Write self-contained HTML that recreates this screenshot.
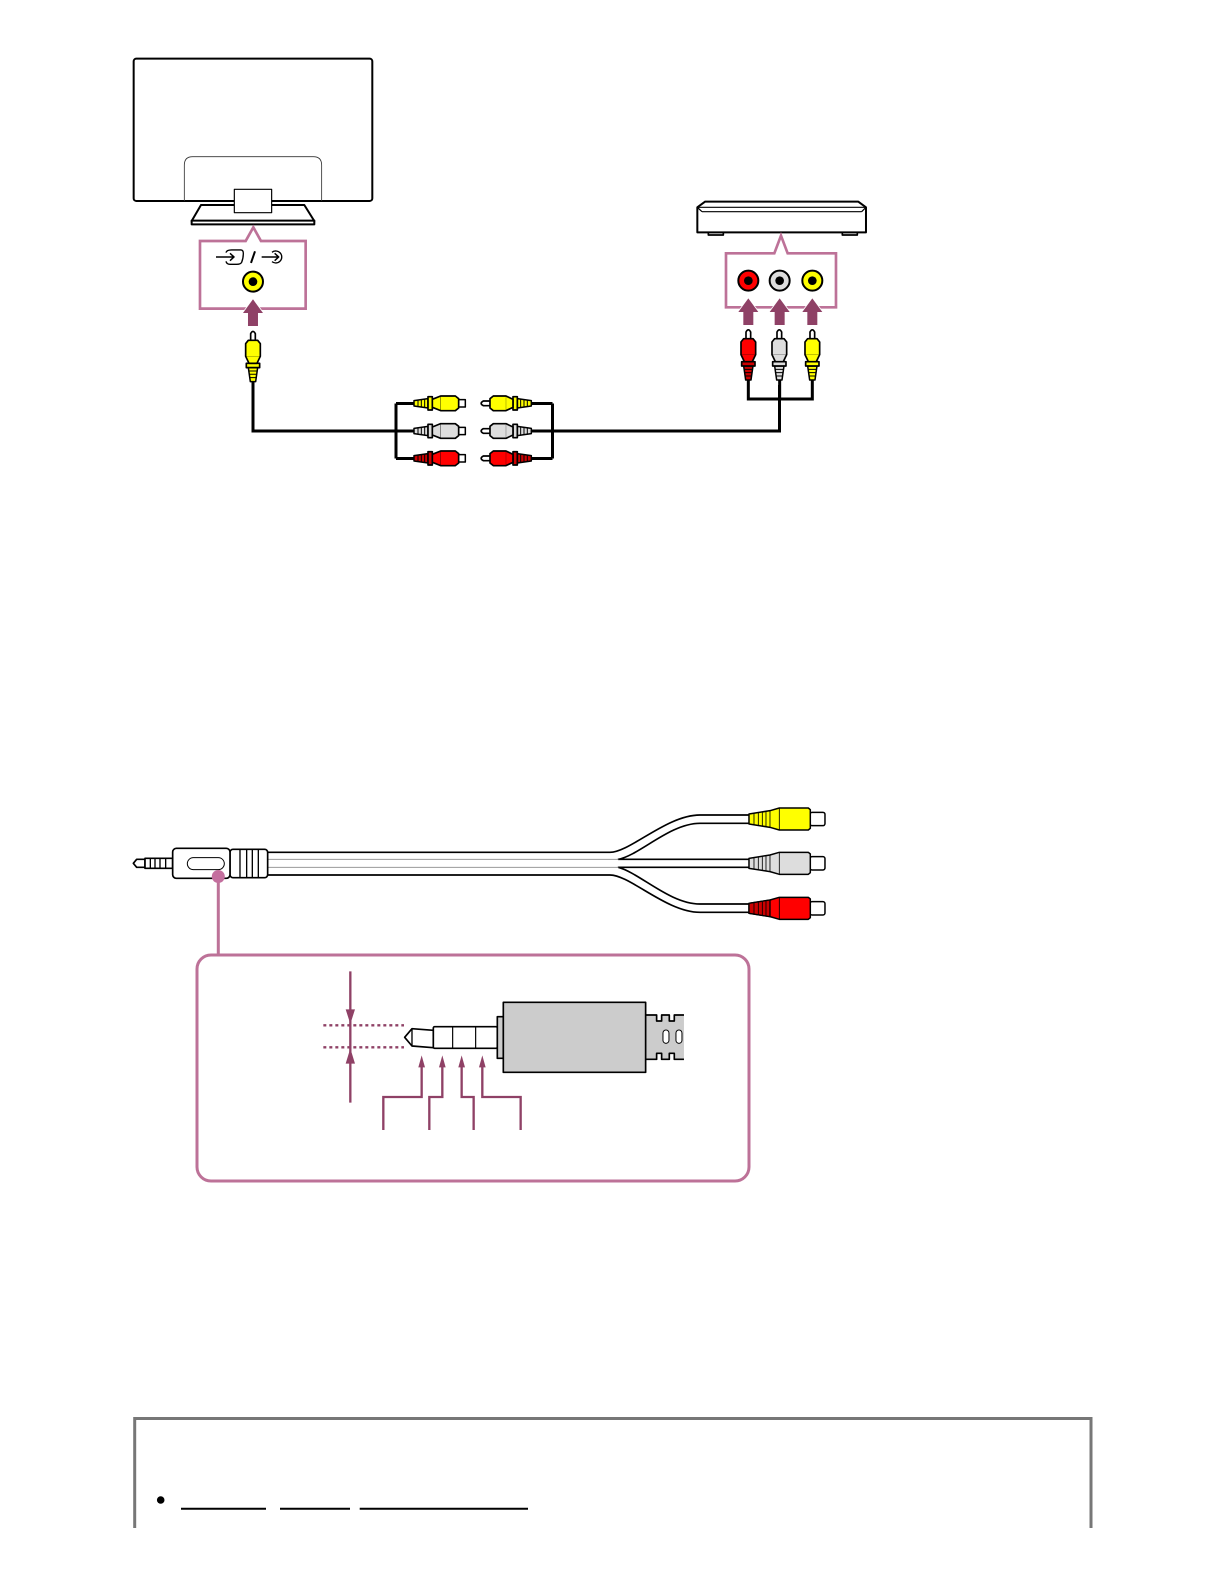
<!DOCTYPE html>
<html>
<head>
<meta charset="utf-8">
<style>
html,body{margin:0;padding:0;background:#fff;width:1224px;height:1584px;overflow:hidden}
svg{display:block}
</style>
</head>
<body>
<svg width="1224" height="1584" viewBox="0 0 1224 1584" xmlns="http://www.w3.org/2000/svg" stroke-linejoin="round">
<defs>
  <g id="plug">
    <path d="M-7,32V8Q0,-5 7,8V32Z" fill="#fff" stroke="#000" stroke-width="5"/>
    <path d="M-14,110H14L8,152H-8Z" style="fill:var(--r,currentColor)" stroke="#000" stroke-width="4.5"/>
    <path d="M-13,120H13M-12,130H12M-11,140H11" stroke="#000" stroke-width="3"/>
    <rect x="-20" y="97" width="40" height="13" style="fill:var(--r,currentColor)" stroke="#000" stroke-width="5"/>
    <path d="M-14,28H14L22,38V76L12,97H-12L-22,76V38Z" fill="currentColor" stroke="#000" stroke-width="5"/>
    <path d="M-22,76H22" stroke="#000" stroke-width="1.5" opacity=".5"/>
  </g>
  <g id="fem">
    <rect x="-11" y="-2" width="22" height="24" fill="#fff" stroke="#000" stroke-width="4.5"/>
    <path d="M-14,110H14L8,152H-8Z" style="fill:var(--r,currentColor)" stroke="#000" stroke-width="4.5"/>
    <path d="M-13,120H13M-12,130H12M-11,140H11" stroke="#000" stroke-width="3"/>
    <rect x="-20" y="97" width="40" height="13" style="fill:var(--r,currentColor)" stroke="#000" stroke-width="5"/>
    <path d="M-14,18H14L22,28V72L12,97H-12L-22,72V28Z" fill="currentColor" stroke="#000" stroke-width="5"/>
    <path d="M-22,72H22" stroke="#000" stroke-width="2" opacity=".6"/>
  </g>
  <g id="arrow">
    <path d="M0,0L30,41H15V80H-15V41H-30Z" fill="#8f4166" stroke="#fff" stroke-width="5"/>
    <path d="M0,0L30,41H15V80H-15V41H-30Z" fill="#8f4166"/>
  </g>
  <g id="conn">
    <rect x="630" y="-20" width="45" height="40" rx="6" fill="#fff" stroke="#000" stroke-width="4.5"/>
    <path d="M447,-15L510,-25L538,-33H625L631,-28V28L625,33H538L510,25L447,15Z" fill="currentColor" stroke="#000" stroke-width="4.5"/>
    <path d="M462,-17V17M475,-19V19M487,-21V21M498,-23V23M510,-25V25M538,-33V33" stroke="#000" stroke-width="2.5" fill="none"/>
  </g>
</defs>

<!-- wires -->
<path d="M253,380V431H414M396,403.5V458.5M396,403.5H416M396,458.5H416" fill="none" stroke="#000" stroke-width="3" stroke-linejoin="miter"/>
<path d="M779.5,385V431H528M552.5,403.5V458.5M528,403.5H552.5M528,458.5H552.5" fill="none" stroke="#000" stroke-width="3" stroke-linejoin="miter"/>

<!-- TV -->
<g transform="translate(120,40) scale(.3333)">
  <rect x="41" y="56" width="716" height="427" rx="8" fill="#fff" stroke="#000" stroke-width="6"/>
  <path d="M193,483V375Q193,350 218,350H580Q605,350 605,375V483" fill="none" stroke="#333" stroke-width="2.5"/>
  <path d="M215,543L243,495H553L583,543Z" fill="#fff" stroke="#000" stroke-width="6"/>
  <rect x="215" y="542" width="368" height="11" fill="#fff" stroke="#000" stroke-width="6"/>
  <rect x="343" y="448" width="112" height="70" fill="#fff" stroke="#000" stroke-width="3.5"/>
  <path d="M240,603H377L400,562L423,603H557V806H240Z" fill="#fff" stroke="#bd7298" stroke-width="8" stroke-linejoin="miter"/>
  <path d="M288,651H342M330,640L342,651L330,662" fill="none" stroke="#000" stroke-width="4.5"/>
  <path d="M318,638Q320,630 335,630H362Q370,630 370,640Q370,655 365,667Q362,673 350,673H330Q320,673 318,664" fill="none" stroke="#000" stroke-width="4"/>
  <path d="M393,669L405,634" stroke="#000" stroke-width="6"/>
  <path d="M425,651H476M464,640L476,651L464,662" fill="none" stroke="#000" stroke-width="4.5"/>
  <path d="M456,637A18,18 0 1 1 456,665" fill="none" stroke="#000" stroke-width="4"/>
  <circle cx="399" cy="725" r="30" fill="#ff0" stroke="#000" stroke-width="6"/>
  <circle cx="399" cy="725" r="13" fill="#000"/>
  <use href="#arrow" x="399" y="778"/>
  <use href="#plug" x="399" y="873" color="#ff0"/>
</g>

<!-- set top box -->
<g transform="translate(680,190) scale(.3333)">
  <path d="M85,127H130V135H85ZM487,127H532V135H487Z" fill="#fff" stroke="#000" stroke-width="5"/>
  <path d="M52,52L75,35H535L558,52V127H52Z" fill="#fff" stroke="#000" stroke-width="6"/>
  <path d="M52,52H558M66,65H545M52,52L66,65M558,52L545,65" fill="none" stroke="#000" stroke-width="3.5"/>
  <path d="M138,190H283L303,137L323,190H468V352H138Z" fill="#fff" stroke="#bd7298" stroke-width="8" stroke-linejoin="miter"/>
  <circle cx="205" cy="272" r="30" fill="#f00" stroke="#000" stroke-width="6"/>
  <circle cx="205" cy="272" r="13" fill="#000"/>
  <circle cx="299" cy="272" r="30" fill="#ddd" stroke="#000" stroke-width="6"/>
  <circle cx="299" cy="272" r="13" fill="#000"/>
  <circle cx="397" cy="272" r="30" fill="#ff0" stroke="#000" stroke-width="6"/>
  <circle cx="397" cy="272" r="13" fill="#000"/>
  <use href="#arrow" x="205" y="325"/>
  <use href="#arrow" x="299" y="325"/>
  <use href="#arrow" x="397" y="325"/>
  <path d="M205,565V627H397V565M299,565V627" fill="none" stroke="#000" stroke-width="9" stroke-linejoin="miter"/>
  <use href="#plug" x="205" y="418" color="#f00" style="--r:#c00"/>
  <use href="#plug" x="298" y="418" color="#ddd"/>
  <use href="#plug" x="397" y="418" color="#ff0"/>
</g>

<!-- middle cable plugs -->
<g transform="translate(380,380) scale(.3333)">
  <use href="#fem" transform="translate(254,70) rotate(90)" color="#ff0"/>
  <use href="#fem" transform="translate(254,153) rotate(90)" color="#ddd"/>
  <use href="#fem" transform="translate(254,235) rotate(90)" color="#f00" style="--r:#c00"/>
  <use href="#plug" transform="translate(302,70) rotate(-90)" color="#ff0"/>
  <use href="#plug" transform="translate(302,153) rotate(-90)" color="#ddd"/>
  <use href="#plug" transform="translate(302,235) rotate(-90)" color="#f00" style="--r:#c00"/>
</g>

<!-- lower cable: split -->
<g transform="translate(600,790) scale(.3333)">
  <path d="M-1000,187H30C90,187 200,75 300,75H447V100H300C210,100 120,195 55,208H447V232H55C120,250 210,342 300,342H447V367H300C200,367 90,255 30,255H-1000Z" fill="#fff"/>
  <path d="M-1000,187H30C90,187 200,75 300,75H447M447,100H300C210,100 120,195 55,208H447M447,232H55C120,250 210,342 300,342H447M447,367H300C200,367 90,255 30,255H-1000" fill="none" stroke="#000" stroke-width="5"/>
  <path d="M-1000,208H55M-1000,232H55" fill="none" stroke="#999" stroke-width="3"/>
  <use href="#conn" y="87" color="#ff0"/>
  <use href="#conn" y="220" color="#ddd"/>
  <use href="#conn" y="355" color="#f00"/>
  <path d="M447,340V370L510,380V330Z" fill="#c00" stroke="#000" stroke-width="4"/>
  <path d="M462,338V372M475,336V374M487,334V376M498,332V378" stroke="#000" stroke-width="2.5" fill="none"/>
</g>

<!-- lower cable: 3.5mm plug -->
<g transform="translate(125,825) scale(.3333)">
  <path d="M25,115L35,103H60V127H35Z" fill="#fff" stroke="#000" stroke-width="5"/>
  <rect x="60" y="100" width="83" height="30" fill="#fff" stroke="#000" stroke-width="5"/>
  <path d="M76,100V130M90,100V130M105,100V130M122,100V130" stroke="#000" stroke-width="4"/>
  <rect x="315" y="73" width="113" height="85" rx="9" fill="#fff" stroke="#000" stroke-width="5"/>
  <path d="M345,73V158M365,73V158M382,73V158M400,73V158" stroke="#000" stroke-width="4"/>
  <rect x="143" y="70" width="172" height="90" rx="11" fill="#fff" stroke="#000" stroke-width="5"/>
  <rect x="187" y="98" width="111" height="36" rx="18" fill="#fff" stroke="#000" stroke-width="3"/>
</g>

<!-- callout -->
<path d="M218.3,876V955" stroke="#bd7298" stroke-width="3" fill="none"/>
<circle cx="218.3" cy="876.5" r="6.5" fill="#c46f9e"/>
<rect x="197" y="955" width="552" height="226" rx="14" fill="#fff" stroke="#bd7298" stroke-width="3"/>

<!-- detail jack -->
<g transform="translate(310,950) scale(.3333)">
  <path d="M1007,195H1040V213H1055V195H1078V213H1093V195H1122V328H1093V310H1078V328H1055V310H1040V328H1007Z" fill="#ccc"/>
  <path d="M1007,195H1040V213H1055V195H1078V213H1093V195H1122M1122,328H1093V310H1078V328H1055V310H1040V328H1007" fill="none" stroke="#000" stroke-width="5"/>
  <rect x="1059" y="240" width="18" height="40" rx="9" fill="#fff" stroke="#000" stroke-width="3"/>
  <rect x="1098" y="240" width="18" height="40" rx="9" fill="#fff" stroke="#000" stroke-width="3"/>
  <path d="M284,262L306,236L370,241V293L306,288Z" fill="#fff" stroke="#000" stroke-width="5"/>
  <path d="M306,236V288" stroke="#000" stroke-width="4"/>
  <rect x="370" y="230" width="192" height="65" rx="4" fill="#fff" stroke="#000" stroke-width="5"/>
  <path d="M428,230V295M497,230V295" stroke="#000" stroke-width="3.5"/>
  <rect x="562" y="200" width="18" height="125" fill="#ccc" stroke="#000" stroke-width="5"/>
  <rect x="580" y="157" width="427" height="210" fill="#ccc" stroke="#000" stroke-width="5"/>
  <path d="M40,226H282M40,292H282" stroke="#8f4166" stroke-width="7" stroke-dasharray="9 9" fill="none"/>
  <path d="M121,64V458" stroke="#8f4166" stroke-width="7"/>
  <path d="M107,178H135L121,222ZM107,341H135L121,295Z" fill="#8f4166"/>
  <path d="M335,345V441H220V540M397,345V441H358V540M455,345V441H491V540M517,345V441H632V540" fill="none" stroke="#8f4166" stroke-width="7" stroke-linejoin="miter"/>
  <path d="M335,316L345,352H325ZM397,316L407,352H387ZM455,316L465,352H445ZM517,316L527,352H507Z" fill="#8f4166"/>
</g>

<!-- bottom box -->
<path d="M134.7,1528V1418.5H1091V1528" fill="none" stroke="#777" stroke-width="3" stroke-linejoin="miter"/>
<circle cx="160.7" cy="1500" r="3.8" fill="#000"/>
<path d="M181,1508.7H266M280,1508.7H350M359.7,1508.7H528" stroke="#000" stroke-width="2"/>
</svg>
</body>
</html>
